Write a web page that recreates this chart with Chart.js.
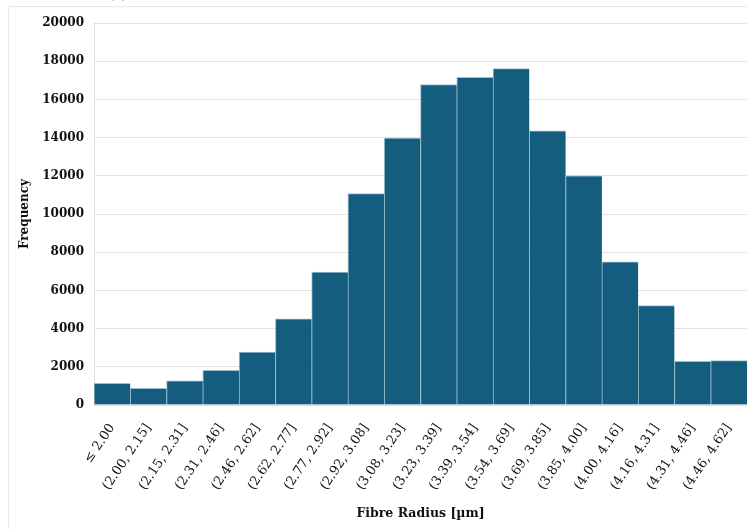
<!DOCTYPE html>
<html>
<head>
<meta charset="utf-8">
<script src="https://cdn.jsdelivr.net/npm/chart.js@4.4.1/dist/chart.umd.min.js"></script>
<style>
    html, body { margin: 0; padding: 0; background: #fff; overflow: hidden; width: 747px; height: 529px; }
    #frame { position: absolute; left: 8px; top: 6px; width: 900px; height: 700px; border: 1px solid #e8e8e8; }
    #panel { position: absolute; left: 110px; top: -12px; font: 12px "DejaVu Serif", serif; color: #333; }
    #histo { position: absolute; left: 0; top: 0; }
</style>
</head>
<body>
<div id="frame"></div>
<div id="panel">(a)</div>
<canvas id="histo" width="747" height="529"></canvas>
<script>
// Classes de rayon de fibre (µm) et effectifs
const radiusBins = [
    '≤ 2.00', '(2.00, 2.15]', '(2.15, 2.31]', '(2.31, 2.46]', '(2.46, 2.62]',
    '(2.62, 2.77]', '(2.77, 2.92]', '(2.92, 3.08]', '(3.08, 3.23]', '(3.23, 3.39]',
    '(3.39, 3.54]', '(3.54, 3.69]', '(3.69, 3.85]', '(3.85, 4.00]', '(4.00, 4.16]',
    '(4.16, 4.31]', '(4.31, 4.46]', '(4.46, 4.62]'
];
const frequencies = [
    1140, 870, 1270, 1820, 2770,
    4510, 6960, 11070, 13980, 16780,
    17150, 17610, 14350, 12000, 7500,
    5200, 2290, 2320
];
const yTicks = [0, 2000, 4000, 6000, 8000, 10000, 12000, 14000, 16000, 18000, 20000];

const serif = '"DejaVu Serif", serif';

new Chart(document.getElementById('histo').getContext('2d'), {
    type: 'bar',
    data: {
        labels: radiusBins,
        datasets: [{
            label: 'Frequency',
            data: frequencies,
            backgroundColor: '#155d7f',
            borderColor: 'rgba(140, 180, 200, 0.85)',
            borderWidth: { top: 1, left: 1, right: 0, bottom: 0 },
            borderSkipped: false,
            categoryPercentage: 1.0,
            barPercentage: 1.0
        }]
    },
    options: {
        responsive: false,
        devicePixelRatio: 1,
        animation: false,
        layout: { padding: { top: 23, left: 0, right: 0, bottom: 0 } },
        plugins: {
            legend: { display: false },
            tooltip: { enabled: false }
        },
        scales: {
            x: {
                grid: { display: false },
                border: { display: true, color: '#dedede' },
                ticks: {
                    autoSkip: false,
                    minRotation: 56,
                    maxRotation: 56,
                    padding: 8,
                    color: '#111',
                    font: { family: serif, size: 13 }
                },
                title: {
                    display: true,
                    text: 'Fibre Radius [µm]',
                    color: '#111',
                    font: { family: serif, size: 12.5, weight: 'bold' },
                    padding: { top: 4, bottom: 8 }
                },
                afterFit: scale => {
                    scale.height = 124;
                    // pas de marge à droite : les barres vont jusqu'au bord
                    scale.paddingLeft = 0;
                    scale.paddingRight = 0;
                }
            },
            y: {
                min: 0,
                max: 20000,
                afterBuildTicks: scale => { scale.ticks = yTicks.map(v => ({ value: v })); },
                grid: { color: '#e2e2e2', drawTicks: false },
                border: { display: true, color: '#dedede' },
                ticks: {
                    padding: 10,
                    color: '#111',
                    font: { family: serif, size: 12, weight: 'bold' },
                    callback: value => String(value)
                },
                title: {
                    display: true,
                    text: 'Frequency',
                    color: '#111',
                    font: { family: serif, size: 12, weight: 'bold' },
                    padding: { top: 18, bottom: 4 }
                },
                afterFit: scale => {
                    scale.width = 94;
                    scale.paddingTop = 0;
                    scale.paddingBottom = 0;
                }
            }
        }
    }
});
</script>
</body>
</html>
